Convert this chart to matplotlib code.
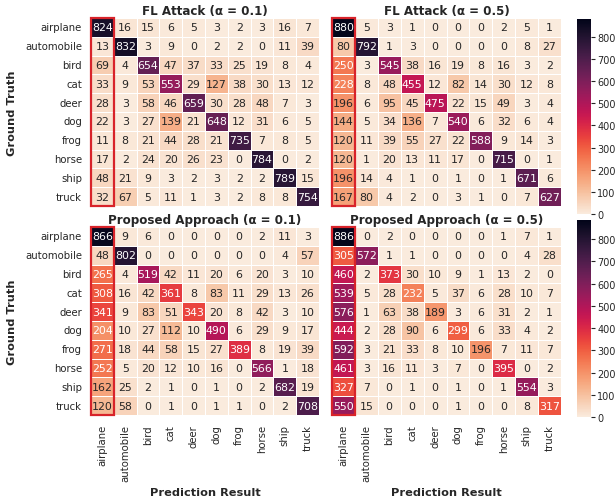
import numpy as np
import matplotlib
matplotlib.use("Agg")
import matplotlib.pyplot as plt
import seaborn as sns
from matplotlib.patches import Rectangle

classes = ["airplane", "automobile", "bird", "cat", "deer",
           "dog", "frog", "horse", "ship", "truck"]

fl_attack_01 = [
    [824, 16, 15, 6, 5, 3, 2, 3, 16, 7],
    [13, 832, 3, 9, 0, 2, 2, 0, 11, 39],
    [69, 4, 654, 47, 37, 33, 25, 19, 8, 4],
    [33, 9, 53, 553, 29, 127, 38, 30, 13, 12],
    [28, 3, 58, 46, 659, 30, 28, 48, 7, 3],
    [22, 3, 27, 139, 21, 648, 12, 31, 6, 5],
    [11, 8, 21, 44, 28, 21, 735, 7, 8, 5],
    [17, 2, 24, 20, 26, 23, 0, 784, 0, 2],
    [48, 21, 9, 3, 2, 3, 2, 2, 789, 15],
    [32, 67, 5, 11, 1, 3, 2, 8, 8, 754],
]

fl_attack_05 = [
    [880, 5, 3, 1, 0, 0, 0, 2, 5, 1],
    [80, 792, 1, 3, 0, 0, 0, 0, 8, 27],
    [250, 3, 545, 38, 16, 19, 8, 16, 3, 2],
    [228, 8, 48, 455, 12, 82, 14, 30, 12, 8],
    [196, 6, 95, 45, 475, 22, 15, 49, 3, 4],
    [144, 5, 34, 136, 7, 540, 6, 32, 6, 4],
    [120, 11, 39, 55, 27, 22, 588, 9, 14, 3],
    [120, 1, 20, 13, 11, 17, 0, 715, 0, 1],
    [196, 14, 4, 1, 0, 1, 0, 1, 671, 6],
    [167, 80, 4, 2, 0, 3, 1, 0, 7, 627],
]

proposed_01 = [
    [866, 9, 6, 0, 0, 0, 0, 2, 11, 3],
    [48, 802, 0, 0, 0, 0, 0, 0, 4, 57],
    [265, 4, 519, 42, 11, 20, 6, 20, 3, 10],
    [308, 16, 42, 361, 8, 83, 11, 29, 13, 26],
    [341, 9, 83, 51, 343, 20, 8, 42, 3, 10],
    [204, 10, 27, 112, 10, 490, 6, 29, 9, 17],
    [271, 18, 44, 58, 15, 27, 389, 8, 19, 39],
    [252, 5, 20, 12, 10, 16, 0, 566, 1, 18],
    [162, 25, 2, 1, 0, 1, 0, 2, 682, 19],
    [120, 58, 0, 1, 0, 1, 1, 0, 2, 708],
]

proposed_05 = [
    [886, 0, 2, 0, 0, 0, 0, 1, 7, 1],
    [305, 572, 1, 1, 0, 0, 0, 0, 4, 28],
    [460, 2, 373, 30, 10, 9, 1, 13, 2, 0],
    [539, 5, 28, 232, 5, 37, 6, 28, 10, 7],
    [576, 1, 63, 38, 189, 3, 6, 31, 2, 1],
    [444, 2, 28, 90, 6, 299, 6, 33, 4, 2],
    [592, 3, 21, 33, 8, 10, 196, 7, 11, 7],
    [461, 3, 16, 11, 3, 7, 0, 395, 0, 2],
    [327, 7, 0, 1, 0, 1, 0, 1, 554, 3],
    [550, 15, 0, 0, 0, 1, 0, 0, 8, 317],
]

titles = ["FL Attack (\u03b1 = 0.1)", "FL Attack (\u03b1 = 0.5)",
          "Proposed Approach (\u03b1 = 0.1)", "Proposed Approach (\u03b1 = 0.5)"]

sns.set_theme(style="white")
plt.rcParams["font.family"] = ["DejaVu Sans"]
plt.rcParams["text.color"] = "#262626"
plt.rcParams["xtick.color"] = "#262626"
plt.rcParams["ytick.color"] = "#262626"

W, H = 615, 502
fig = plt.figure(figsize=(W / 100, H / 100), dpi=100)


def box(x0, y0, x1, y1):
    """Axes rectangle from pixel edges (origin top-left)."""
    return [x0 / W, 1 - y1 / H, (x1 - x0) / W, (y1 - y0) / H]


heat_boxes = [box(91, 19, 319, 207), box(332, 19, 561, 207),
              box(91, 228, 319, 416), box(332, 228, 561, 416)]
cbar_boxes = [box(577, 20, 591, 215), box(577, 221, 591, 418)]

mats = [fl_attack_01, fl_attack_05, proposed_01, proposed_05]
cbar_axes = [fig.add_axes(b) for b in cbar_boxes]

for i, (mat, b, title) in enumerate(zip(mats, heat_boxes, titles)):
    ax = fig.add_axes(b)
    row = i // 2
    col = i % 2
    vmax = max(np.max(mats[2 * row]), np.max(mats[2 * row + 1]))
    sns.heatmap(np.array(mat), ax=ax, cmap="rocket_r", vmin=0, vmax=vmax,
                annot=True, fmt="d", annot_kws={"fontsize": 7.9},
                linewidths=0.7, linecolor="white",
                cbar=(col == 1), cbar_ax=cbar_axes[row] if col == 1 else None,
                xticklabels=classes if row == 1 else False,
                yticklabels=classes if col == 0 else False)
    ax.set_title(title, fontsize=8.6, fontweight="bold", pad=3)
    ax.tick_params(axis="both", length=0, labelsize=7.3, pad=6.5)
    if row == 1:
        ax.set_xticklabels(classes, rotation=90)
        ax.set_xlabel("Prediction Result", fontsize=8.2, fontweight="bold", labelpad=4)
    if col == 0:
        ax.set_yticklabels(classes, rotation=0)
        ax.set_ylabel("Ground Truth", fontsize=8.2, fontweight="bold", labelpad=6)
    # outline the "airplane" prediction column
    ax.add_patch(Rectangle((0, 0), 1, 10, fill=False, edgecolor="#d8232a",
                           linewidth=1.6, clip_on=False, zorder=5))

for cax in cbar_axes:
    cax.tick_params(axis="y", length=3, width=0.8, labelsize=7, pad=1.5, color="#262626")
    cax.set_yticks(range(0, 900, 100))

fig.savefig("out.png", dpi=100)
